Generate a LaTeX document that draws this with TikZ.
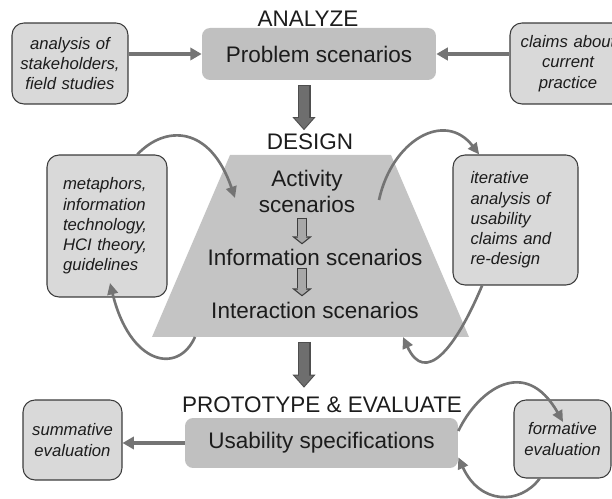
\documentclass[tikz,border=0pt]{standalone}
\usepackage{fontspec}
\setmainfont{Liberation Sans}
\usetikzlibrary{arrows.meta,calc}
\definecolor{phasegray}{HTML}{C0C0C0}
\definecolor{designgray}{HTML}{C4C4C4}
\definecolor{boxgray}{HTML}{D9D9D9}
\definecolor{boxline}{HTML}{3C3C3C}
\definecolor{arrowgray}{HTML}{747474}
\definecolor{bigdark}{HTML}{4E4E4E}
\definecolor{bigfill}{HTML}{6E6E6E}
\definecolor{smalldark}{HTML}{3E3E3E}
\definecolor{smallfill}{HTML}{A8A8A8}
\definecolor{ink}{HTML}{1C1C1C}

\begin{document}
\begin{tikzpicture}[x=0.02cm, y=-0.02cm,
        bigfont/.style={font=\fontsize{12.8}{15.3}\selectfont},
        heading/.style={bigfont, inner sep=0pt, text=ink},
        phase/.style={bigfont, fill=phasegray, rounded corners=0.16cm, text=ink},
        scen/.style={bigfont, inner sep=0pt, text=ink, align=center},
        source/.style={fill=boxgray, draw=boxline, line width=0.6pt, rounded corners=0.24cm,
            text=ink, font=\fontsize{9.5}{11.5}\selectfont\itshape},
        link/.style={arrowgray, line width=2.2pt, -{Triangle[width=7pt,length=6.5pt]}},
        curve/.style={arrowgray, line width=1.5pt, -{Triangle[width=6pt,length=6.5pt]}},
        bigout/.style={bigdark, line width=7.4pt, -{Triangle[width=13.1pt,length=7.4pt,line width=0pt]}},
        bigin/.style={bigfill, line width=6.2pt, shorten <=0.6pt, shorten >=0.9pt,
            -{Triangle[width=10.4pt,length=5.9pt,line width=0pt]}},
        smallout/.style={smalldark, line width=5.7pt, -{Triangle[width=11.3pt,length=4.5pt,line width=0pt]}},
        smallin/.style={smallfill, line width=4.3pt, shorten <=0.7pt, shorten >=0.9pt,
            -{Triangle[width=7.3pt,length=2.9pt,line width=0pt]}}]
    \useasboundingbox (0,0) rectangle (612,499);
    \clip (0,0) rectangle (612,499);

    % analyze
    \node[heading] (analyzelabel) at (308,19) {ANALYZE};
    \node[phase, minimum width=4.68cm, minimum height=1.04cm] (problem) at (319,54) {Problem scenarios};
    \node[source, align=center, text width=2.12cm, inner xsep=0.1cm, minimum height=1.62cm] (analysis) at (70,63.5)
        {analysis of\\stakeholders,\\field studies};
    \node[source, align=center, text width=2.12cm, inner xsep=0.1cm, minimum height=1.62cm] (claims) at (568,63.5)
        {claims about\\current\\practice};
    \draw[link] (analysis.east |- problem.west) -- (problem.west);
    \draw[link] (claims.west |- problem.east) -- (problem.east);

    % design
    \node[heading] (designlabel) at (310,141.5) {DESIGN};
    \fill[designgray] (230,155) -- (391,155) -- (469,337) -- (152,337) -- cycle;
    \coordinate (designbottom) at (310.5,337);
    \node[scen] (activity) at (307,191.5) {Activity\\scenarios};
    \node[scen] (information) at (315,257) {Information scenarios};
    \node[scen] (interaction) at (315,310) {Interaction scenarios};
    \draw[bigout] ($(problem.south)+(-15,5)$) -- ($(designlabel.north)+(-6,-3)$);
    \draw[bigin] ($(problem.south)+(-15,5)$) -- ($(designlabel.north)+(-6,-3)$);
    \draw[smallout] ($(activity.south)+(-5,4)$) -- ($(information.north)+(-13,-4)$);
    \draw[smallin] ($(activity.south)+(-5,4)$) -- ($(information.north)+(-13,-4)$);
    \draw[smallout] ($(information.south)+(-13,2)$) -- ($(interaction.north)+(-13,-5)$);
    \draw[smallin] ($(information.south)+(-13,2)$) -- ($(interaction.north)+(-13,-5)$);

    \node[source, align=left, text width=1.76cm, inner xsep=0.32cm, minimum height=2.84cm] (metaphors) at (107,226)
        {metaphors,\\information\\technology,\\HCI theory,\\guidelines};
    \node[source, align=left, text width=1.8cm, inner xsep=0.35cm, minimum height=2.6cm] (iterative) at (515.5,220)
        {iterative\\analysis of\\usability\\claims and\\re-design};
    \coordinate (designin) at (235,198);
    \coordinate (designleave) at (195,337);
    \coordinate (designout) at (379,200);
    \coordinate (designback) at (403,337);
    \coordinate (metaphorsin) at (110,283);
    \draw[curve] (metaphors.67) .. controls (165,125) and (210,125) .. (designin);
    \draw[curve] (designleave) .. controls (178,375) and (130,365) .. (metaphorsin);
    \draw[curve] (designout) .. controls (392,140) and (445,110) .. (iterative.119);
    \draw[curve] (iterative.243) .. controls (455,350) and (425,385) .. (designback);

    % prototype & evaluate
    \node[heading] (protolabel) at (322,405) {PROTOTYPE \& EVALUATE};
    \node[phase, minimum width=5.46cm, minimum height=1.0cm] (usability) at (321.5,443) {Usability specifications};
    \draw[bigout] ($(designbottom)+(-6.5,5)$) -- ($(protolabel.north)+(-18,-9)$);
    \draw[bigin] ($(designbottom)+(-6.5,5)$) -- ($(protolabel.north)+(-18,-9)$);
    \node[source, align=center, text width=1.8cm, inner xsep=0.09cm, minimum height=1.6cm] (summative) at (72.5,440)
        {summative\\evaluation};
    \node[source, align=center, text width=1.8cm, inner xsep=0.07cm, minimum height=1.56cm] (formative) at (562.5,439)
        {formative\\evaluation};
    \coordinate (formativein) at (563,422);
    \draw[link] (usability.west) -- (summative.east |- usability.west);
    \draw[curve] (usability.5) .. controls (478,390) and (525,355) .. (formativein);
    \draw[curve] (formative.240) .. controls (520,505) and (480,505) .. (usability.-6);
\end{tikzpicture}
\end{document}
